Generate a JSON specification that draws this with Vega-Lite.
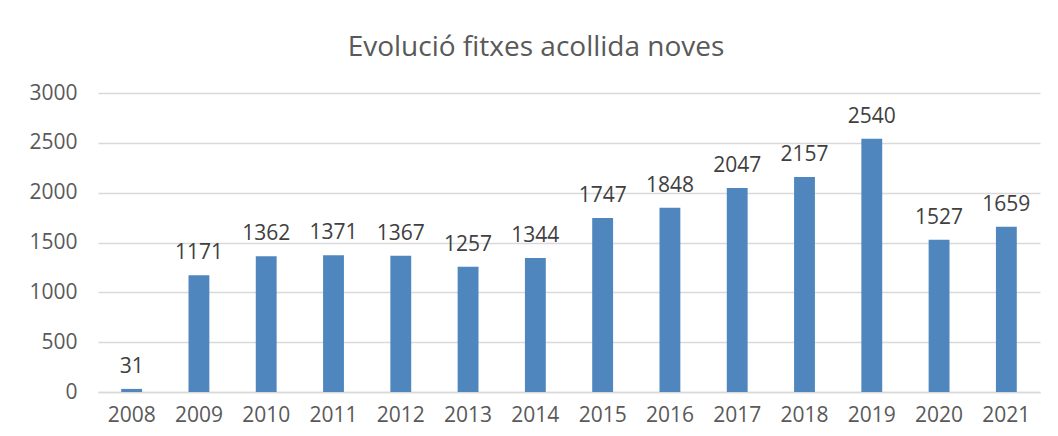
{
  "$schema": "https://vega.github.io/schema/vega-lite/v6.json",
  "autosize": {"type": "none"},
  "width": 942,
  "height": 299,
  "padding": {"left": 98, "top": 93, "right": 18, "bottom": 44},
  "background": "white",
  "title": {
    "text": "Evolució fitxes acollida noves",
    "font": "Open Sans",
    "fontSize": 28,
    "fontWeight": "normal",
    "color": "#595959",
    "anchor": "middle",
    "dx": -33,
    "offset": 20
  },
  "data": {
    "values": [
      {"year": "2008", "value": 31},
      {"year": "2009", "value": 1171},
      {"year": "2010", "value": 1362},
      {"year": "2011", "value": 1371},
      {"year": "2012", "value": 1367},
      {"year": "2013", "value": 1257},
      {"year": "2014", "value": 1344},
      {"year": "2015", "value": 1747},
      {"year": "2016", "value": 1848},
      {"year": "2017", "value": 2047},
      {"year": "2018", "value": 2157},
      {"year": "2019", "value": 2540},
      {"year": "2020", "value": 1527},
      {"year": "2021", "value": 1659}
    ]
  },
  "encoding": {
    "x": {
      "field": "year",
      "type": "ordinal",
      "scale": {"paddingInner": 0.69, "paddingOuter": 0.345},
      "axis": {
        "title": null,
        "labelAngle": 0,
        "labelFont": "Open Sans",
        "labelFontSize": 21,
        "labelColor": "#595959",
        "labelPadding": 12,
        "ticks": false,
        "domain": true,
        "domainColor": "#d9d9d9",
        "domainWidth": 1.3,
        "grid": false
      }
    },
    "y": {
      "field": "value",
      "type": "quantitative",
      "scale": {"domain": [0, 3000], "nice": false},
      "axis": {
        "title": null,
        "values": [0, 500, 1000, 1500, 2000, 2500, 3000],
        "format": "d",
        "labelFont": "Open Sans",
        "labelFontSize": 21,
        "labelColor": "#595959",
        "labelPadding": 21,
        "ticks": false,
        "domain": false,
        "grid": true,
        "gridColor": "#d9d9d9",
        "gridWidth": 1.3
      }
    }
  },
  "layer": [
    {"mark": {"type": "bar", "color": "#4F86BE"}},
    {
      "mark": {
        "type": "text",
        "font": "Open Sans",
        "fontSize": 21,
        "color": "#404040",
        "baseline": "bottom",
        "dy": -12
      },
      "encoding": {"text": {"field": "value", "type": "quantitative", "format": "d"}}
    }
  ],
  "config": {"view": {"stroke": null}}
}
